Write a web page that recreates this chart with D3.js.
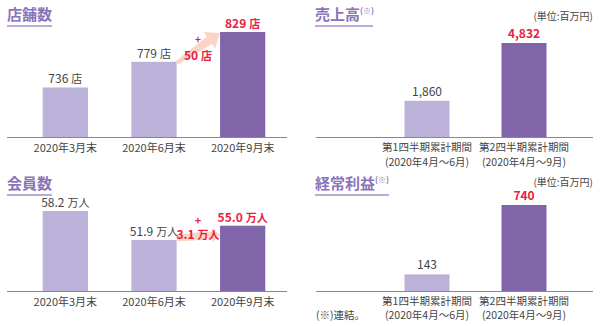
<!DOCTYPE html>
<html>
<head>
<meta charset="utf-8">
<script src="https://cdn.jsdelivr.net/npm/d3@7"></script>
<style>
  body { margin: 0; background: #fff; }
  svg { display: block; font-family: "Noto Sans CJK JP", "Noto Sans", sans-serif; }
</style>
</head>
<body>
<svg id="chart" width="600" height="326"></svg>
<script>
// data
var monthCats = ["2020年3月末", "2020年6月末", "2020年9月末"];
var storeValues = [736, 779, 829];
var storeLabels = ["736 店", "779 店", "829 店"];
var storeDiff = "50 店";
var memberValues = [58.2, 51.9, 55.0];
var memberLabels = ["58.2 万人", "51.9 万人", "55.0 万人"];
var memberDiff = "3.1 万人";
var quarterCats = ["第1四半期累計期間", "第2四半期累計期間"];
var quarterSub = ["(2020年4月～6月)", "(2020年4月～9月)"];
var salesValues = [1860, 4832];
var profitValues = [143, 740];

var light = "#bcb1d8", dark = "#8065a9", red = "#e8213f", textc = "#444",
    titlec = "#8c73b9", linec = "#b9abd8", arrowc = "#fcd4c7";

var svg = d3.select("#chart");

// number + smaller unit, e.g. "736 店"
function numUnit(sel, s) {
  var parts = s.split(" ");
  sel.append("tspan").text(parts[0]);
  sel.append("tspan").attr("font-size", 11).attr("dx", 3).text(parts[1]);
}

function title(g, x, y, txt, sup, ulen) {
  var t = g.append("text").attr("x", x).attr("y", y)
    .attr("fill", titlec).attr("font-size", 15).attr("font-weight", 700).text(txt);
  if (sup) {
    t.append("tspan").attr("font-size", 8).attr("dy", -6).text(sup);
  }
  g.append("line").attr("x1", x).attr("x2", x + ulen).attr("y1", y + 6).attr("y2", y + 6)
    .attr("stroke", linec).attr("stroke-width", 2);
}

function arrow(g, x0, y0, x1, y1, w0, w1, hw, hl) {
  var dx = x1 - x0, dy = y1 - y0, len = Math.sqrt(dx * dx + dy * dy);
  var ux = dx / len, uy = dy / len, nx = -uy, ny = ux;
  function p(a, b) { return [x0 + ux * a + nx * b, y0 + uy * a + ny * b]; }
  var pts = [p(0, -w0 / 2), p(len - hl, -w1 / 2), p(len - hl, -hw / 2), p(len, 0),
             p(len - hl, hw / 2), p(len - hl, w1 / 2), p(0, w0 / 2)];
  g.append("polygon").attr("points", pts.map(function(d) { return d.join(","); }).join(" "))
    .attr("fill", arrowc);
}

function monthPanel(values, labels, ymin, ytop, base, arrowEnd) {
  var g = svg.append("g");
  var x = d3.scaleBand().domain(monthCats).range([21, 287]).paddingInner(0.49).paddingOuter(0.245);
  var y = d3.scaleLinear().domain([ymin, d3.max(values)]).range([base, ytop]);

  g.selectAll("rect").data(values).enter().append("rect")
    .attr("x", function(d, i) { return x(monthCats[i]); })
    .attr("y", function(d) { return y(d); })
    .attr("width", x.bandwidth())
    .attr("height", function(d) { return base - y(d); })
    .attr("fill", function(d, i) { return i == 2 ? dark : light; });

  // increase arrow
  var ax0 = x(monthCats[1]) + x.bandwidth(), ax1 = x(monthCats[2]);
  arrowEnd(g, ax0, ax1, y);

  g.selectAll(".val").data(values).enter().append("text")
    .attr("x", function(d, i) { return x(monthCats[i]) + x.bandwidth() / 2; })
    .attr("y", function(d) { return y(d) - 4; })
    .attr("text-anchor", "middle")
    .attr("font-size", 12)
    .attr("font-weight", function(d, i) { return i == 2 ? 700 : 400; })
    .attr("fill", function(d, i) { return i == 2 ? red : textc; })
    .each(function(d, i) { numUnit(d3.select(this), labels[i]); });

  g.append("line").attr("x1", 7).attr("x2", 287).attr("y1", base + 0.5).attr("y2", base + 0.5)
    .attr("stroke", "#888").attr("stroke-width", 1.2);

  g.selectAll(".cat").data(monthCats).enter().append("text")
    .attr("x", function(d) { return x(d) + x.bandwidth() / 2; })
    .attr("y", base + 15)
    .attr("text-anchor", "middle").attr("font-size", 11).attr("fill", textc)
    .text(function(d) { return d; });
  return g;
}

function quarterPanel(values, ytop, base, subY, unitY) {
  var g = svg.append("g");
  var x = d3.scaleBand().domain(quarterCats).range([378.5, 572.5]).paddingInner(0.536).paddingOuter(0.268);
  var y = d3.scaleLinear().domain([0, d3.max(values)]).range([base, ytop]);

  g.selectAll("rect").data(values).enter().append("rect")
    .attr("x", function(d, i) { return x(quarterCats[i]); })
    .attr("y", function(d) { return y(d); })
    .attr("width", x.bandwidth())
    .attr("height", function(d) { return base - y(d); })
    .attr("fill", function(d, i) { return i == 1 ? dark : light; });

  g.selectAll(".val").data(values).enter().append("text")
    .attr("x", function(d, i) { return x(quarterCats[i]) + x.bandwidth() / 2; })
    .attr("y", function(d) { return y(d) - 5; })
    .attr("text-anchor", "middle").attr("font-size", 12)
    .attr("font-weight", function(d, i) { return i == 1 ? 700 : 400; })
    .attr("fill", function(d, i) { return i == 1 ? red : textc; })
    .text(function(d) { return d3.format(",")(d); });

  g.append("line").attr("x1", 316).attr("x2", 593).attr("y1", base + 0.5).attr("y2", base + 0.5)
    .attr("stroke", "#888").attr("stroke-width", 1.2);

  g.selectAll(".cat").data(quarterCats).enter().append("text")
    .attr("x", function(d) { return x(d) + x.bandwidth() / 2; })
    .attr("y", base + 14)
    .attr("text-anchor", "middle").attr("font-size", 10.5).attr("fill", textc)
    .text(function(d) { return d; });
  g.selectAll(".sub").data(quarterSub).enter().append("text")
    .attr("x", function(d, i) { return x(quarterCats[i]) + x.bandwidth() / 2; })
    .attr("y", subY)
    .attr("text-anchor", "middle").attr("font-size", 10.5).attr("fill", textc)
    .text(function(d) { return d; });

  g.append("text").attr("x", 593).attr("y", unitY).attr("text-anchor", "end")
    .attr("font-size", 10).attr("fill", textc).text("(単位:百万円)");
  return g;
}

// 店舗数
var p1 = monthPanel(storeValues, storeLabels, 653, 32, 137, function(g, ax0, ax1, y) {
  arrow(g, ax0, y(storeValues[1]) + 1, ax1, y(storeValues[2]) + 1, 4, 9, 20, 13);
  g.append("text").attr("x", 198).attr("y", 43).attr("text-anchor", "middle")
    .attr("font-size", 10).attr("font-weight", 700).attr("fill", red).text("+");
  g.append("text").attr("x", 198).attr("y", 60).attr("text-anchor", "middle")
    .attr("font-size", 12).attr("font-weight", 700).attr("fill", red)
    .call(numUnit, storeDiff);
});
title(p1, 7, 20, "店舗数", null, 45);

// 会員数
var p3 = monthPanel(memberValues, memberLabels, 40.8, 211, 291, function(g, ax0, ax1, y) {
  arrow(g, ax0, y(memberValues[1]) - 2, ax1, y(memberValues[2]) + 9, 7, 8, 14, 8);
  g.append("text").attr("x", 198).attr("y", 225).attr("text-anchor", "middle")
    .attr("font-size", 11).attr("font-weight", 700).attr("fill", red).text("+");
  g.append("text").attr("x", 198).attr("y", 239).attr("text-anchor", "middle")
    .attr("font-size", 12).attr("font-weight", 700).attr("fill", red)
    .call(numUnit, memberDiff);
});
title(p3, 7, 189, "会員数", null, 45);

// 売上高
var p2 = quarterPanel(salesValues, 43, 137, 166, 20);
title(p2, 315, 20, "売上高", "(※)", 58);

// 経常利益
var p4 = quarterPanel(profitValues, 205, 291, 319, 186);
title(p4, 315, 189, "経常利益", "(※)", 74);
p4.append("text").attr("x", 316).attr("y", 319).attr("font-size", 10.5).attr("fill", textc).text("(※)連結。");
</script>
</body>
</html>
